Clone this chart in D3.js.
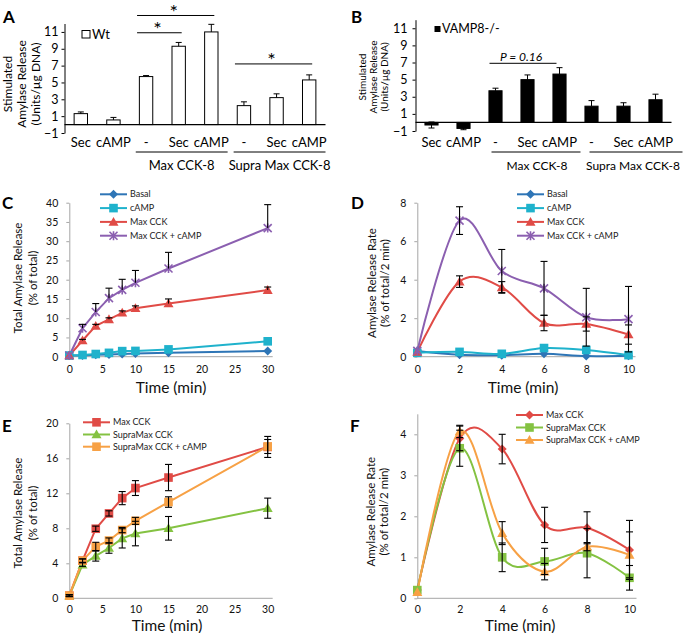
<!DOCTYPE html>
<html><head><meta charset="utf-8">
<script src="https://cdn.jsdelivr.net/npm/d3@7"></script>
<style>body{margin:0;background:#fff} svg{display:block} text{font-family:Lato,"Open Sans",sans-serif}</style>
</head><body>
<svg id="c" width="683" height="633"></svg>
<script>
// ---------- DATA ----------
const barCats = ["Sec","cAMP","-","Sec","cAMP","-","Sec","cAMP"];
const barGroups = ["Max CCK-8","Supra Max CCK-8"];
const barTicks = [-1,1,3,5,7,9,11];
const wtValues = [1.3,0.55,5.7,9.3,11.0,2.25,3.2,5.3];
const wtErrors = [0.2,0.3,0.12,0.45,0.9,0.45,0.45,0.6];
const koValues = [-0.3,-0.7,3.7,5.0,5.65,1.9,1.9,2.65];
const koErrors = [0.35,0.15,0.3,0.55,0.75,0.65,0.4,0.65];

const cumTime = [0,2,4,6,8,10,15,30];
const rateTime = [0,2,4,6,8,10];

// Panel C (cumulative)
const cBasal = [0.3,0.3,0.5,0.6,0.7,0.8,1.0,1.5];
const cCamp = [0.3,0.45,0.7,1.0,1.45,1.5,1.9,4.0];
const cMax = [0.3,4.2,8.0,9.7,11.4,12.6,13.8,17.3];
const cMaxErr = [0,0.3,0.4,0.4,0.5,0.6,1.2,0.8];
const cMaxCamp = [0.3,7.4,11.6,15.2,17.35,19.2,22.9,33.4];
const cMaxCampErr = [0,1.0,2.2,2.6,2.75,3.2,4.2,6.1];

// Panel D (rate)
const dBasal = [0.3,0.1,0.08,0.15,0.03,0.05];
const dCamp = [0.2,0.25,0.15,0.45,0.35,0.08];
const dMax = [0.25,3.9,3.6,1.75,1.7,1.15];
const dMaxErr = [0,0.3,0.3,0.4,0.37,0.5];
const dMaxCamp = [0.3,7.07,4.45,3.55,2.05,1.95];
const dMaxCampErr = [0,0.72,1.12,1.4,1.5,1.7];

// Panel E (cumulative)
const eMax = [0.3,4.3,7.95,9.7,11.45,12.6,13.8,17.3];
const eMaxErr = [0.1,0.2,0.3,0.3,0.75,0.85,1.5,1.2];
const eSupra = [0.3,3.85,4.85,5.75,6.85,7.4,8.0,10.3];
const eSupraErr = [0.1,0.2,0.6,0.6,1.1,1.4,1.35,1.15];
const eSupraCamp = [0.3,4.3,5.9,6.6,7.8,8.85,11.0,17.35];
const eSupraCampErr = [0.1,0.2,0.5,0.3,0.3,0.4,0.6,0.8];

// Panel F (rate)
const fMax = [0.2,3.9,3.64,1.79,1.72,1.18];
const fMaxErr = [0,0.3,0.36,0.43,0.39,0.72];
const fSupra = [0.2,3.66,1.0,0.9,1.1,0.5];
const fSupraErr = [0,0.44,0.35,0.32,0.6,0.3];
const fSupraCamp = [0.15,4.07,1.59,0.65,1.26,1.06];
const fSupraCampErr = [0,0.15,0.28,0.2,0.1,0.56];

const cumTicks = [0,5,10,15,20,25,30];
const rateTicks = [0,2,4,6,8,10];

// ---------- DRAW ----------
const svg = d3.select("#c");

function letter(t,x,y){
  svg.append("text").attr("x",x).attr("y",y).attr("font-size",17).attr("font-weight","bold").text(t);
}

function barPanel(cfg){
  const g = svg.append("g");
  const x = d3.scaleBand().domain(d3.range(barCats.length)).range(cfg.xr).paddingInner(0.59).paddingOuter(0.295);
  const y = d3.scaleLinear().domain([-1,12]).range(cfg.yr);
  const ax = g.append("g").attr("transform",`translate(${cfg.xr[0]},0)`)
    .call(d3.axisLeft(y).tickValues(barTicks).tickSize(3).tickPadding(cfg.tp).tickSizeOuter(0));
  ax.selectAll("text").attr("font-size",12.5).attr("fill","#000");
  ax.selectAll("line,path").attr("stroke","#000");
  g.selectAll("rect.b").data(cfg.values).join("rect")
    .attr("x",(d,i)=>x(i)).attr("width",x.bandwidth())
    .attr("y",d=>y(Math.max(0,d))).attr("height",d=>Math.abs(y(d)-y(0)))
    .attr("fill",cfg.fill).attr("stroke","#000").attr("stroke-width",1);
  cfg.values.forEach((v,i)=>{
    const e = cfg.errors[i], cx = x(i)+x.bandwidth()/2;
    const lo = v<0 ? v-e : v, hi = v+e;
    g.append("line").attr("x1",cx).attr("x2",cx).attr("y1",y(lo)).attr("y2",y(hi)).attr("stroke","#000");
    g.append("line").attr("x1",cx-3).attr("x2",cx+3).attr("y1",y(hi)).attr("y2",y(hi)).attr("stroke","#000");
    if(v<0) g.append("line").attr("x1",cx-3).attr("x2",cx+3).attr("y1",y(lo)).attr("y2",y(lo)).attr("stroke","#000");
  });
  g.append("line").attr("x1",cfg.xr[0]).attr("x2",cfg.xr[1]).attr("y1",y(0)).attr("y2",y(0)).attr("stroke","#000").attr("stroke-width",1.3);
  barCats.forEach((c,i)=>{
    g.append("text").attr("x",x(i)+x.bandwidth()/2).attr("y",147).attr("text-anchor","middle").attr("font-size",13).text(c);
  });
  const step = x.step();
  [[2,4],[5,7]].forEach((r,k)=>{
    const x0 = x(r[0]) - x.paddingOuter()*step + cfg.gOff[k][0], x1 = x(r[1]) - x.paddingOuter()*step + step + cfg.gOff[k][1];
    g.append("line").attr("x1",x0).attr("x2",x1).attr("y1",152).attr("y2",152).attr("stroke","#000");
    g.append("text").attr("x",cfg.gLabelX ? cfg.gLabelX[k] : (x0+x1)/2).attr("y",170).attr("text-anchor","middle")
      .attr("font-size",cfg.gSize).text(barGroups[k]);
  });
  cfg.title.forEach((t,k)=>{
    g.append("text").attr("transform",`translate(${cfg.titleX[k]},${cfg.titleY}) rotate(-90)`)
      .attr("text-anchor","middle").attr("dy","0.35em").attr("font-size",cfg.titleSize).text(t);
  });
  return {x,y,g};
}

// Panel A
const A = barPanel({xr:[64.5,325.5], yr:[133,23.5], tp:3, values:wtValues, errors:wtErrors, fill:"#fff", gSize:13,
  gOff:[[6,0],[6,0]], title:["Stimulated","Amylase Release","(Units/\u00b5g DNA)"], titleX:[8,22,36], titleY:84, titleSize:12});
{
  const cx = i=>A.x(i)+A.x.bandwidth()/2;
  [[2,4,12.95],[2,3,10.9],[5,7,7.2]].forEach(s=>{
    const x0=cx(s[0])-9, x1=cx(s[1])+3, yy=A.y(s[2]);
    A.g.append("line").attr("x1",x0).attr("x2",x1).attr("y1",yy).attr("y2",yy).attr("stroke","#000");
    A.g.append("text").attr("x",(x0+x1)/2-2).attr("y",yy+3.5).attr("text-anchor","middle").attr("font-size",20).text("*");
  });
  A.g.append("rect").attr("x",82).attr("y",30.5).attr("width",8).attr("height",7.5).attr("fill","#fff").attr("stroke","#000");
  A.g.append("text").attr("x",92).attr("y",38.5).attr("font-size",13).text("Wt");
}
letter("A",3,23);

// Panel B
const B = barPanel({xr:[415.5,671.5], yr:[131,19.7], tp:5, values:koValues, errors:koErrors, fill:"#000", gSize:12,
  gLabelX:[537,633],
  gOff:[[12,5],[14,11]], title:["Stimulated","Amylase Release","(Units/\u00b5g DNA)"], titleX:[362,373,384], titleY:77, titleSize:10});
{
  const cx = i=>B.x(i)+B.x.bandwidth()/2;
  const x0=cx(2)-6, x1=cx(4)-3, yy=63.3;
  B.g.append("line").attr("x1",x0).attr("x2",x1).attr("y1",yy).attr("y2",yy).attr("stroke","#000");
  B.g.append("text").attr("x",(x0+x1)/2-2).attr("y",61).attr("text-anchor","middle").attr("font-size",12).attr("font-style","italic").text("P = 0.16");
  B.g.append("rect").attr("x",434.5).attr("y",26).attr("width",6).attr("height",6).attr("fill","#000");
  B.g.append("text").attr("x",442).attr("y",33).attr("font-size",12.5).text("VAMP8-/-");
}
letter("B",351,23);

function marker(g,type,cx,cy,color){
  if(type==="diamond"){
    g.append("path").attr("d",`M${cx},${cy-4.5}L${cx+4.5},${cy}L${cx},${cy+4.5}L${cx-4.5},${cy}Z`).attr("fill",color);
  } else if(type==="square"){
    g.append("rect").attr("x",cx-4.3).attr("y",cy-4.3).attr("width",8.6).attr("height",8.6).attr("fill",color);
  } else if(type==="triangle"){
    g.append("path").attr("d",`M${cx},${cy-5}L${cx+5},${cy+3.8}L${cx-5},${cy+3.8}Z`).attr("fill",color);
  } else if(type==="star"){
    g.append("path").attr("d",`M${cx-4},${cy-4}L${cx+4},${cy+4}M${cx-4},${cy+4}L${cx+4},${cy-4}M${cx},${cy-4.5}L${cx},${cy+4.5}`)
      .attr("stroke",color).attr("stroke-width",1.6).attr("fill","none");
  }
}

function linePanel(cfg){
  const g = svg.append("g");
  const x = d3.scaleLinear().domain(cfg.xd).range(cfg.xr);
  const y = d3.scaleLinear().domain(cfg.yd).range(cfg.yr);
  const axCol = "#a6a6a6";
  const ay = g.append("g").attr("transform",`translate(${cfg.xr[0]},0)`)
    .call(d3.axisLeft(y).tickValues(cfg.yTicks).tickFormat(d3.format("d")).tickSize(3).tickPadding(8).tickSizeOuter(0));
  ay.selectAll("line,path").attr("stroke",axCol);
  ay.selectAll("text").attr("font-size",10.5).attr("fill","#111");
  g.append("line").attr("x1",cfg.xr[0]).attr("x2",cfg.xr[1]+cfg.xExt).attr("y1",y(0)).attr("y2",y(0)).attr("stroke",axCol);
  const ax = g.append("g").attr("transform",`translate(0,${y(0)})`)
    .call(d3.axisBottom(x).tickValues(cfg.xTicks).tickFormat(d3.format("d")).tickSize(0).tickPadding(cfg.xPad));
  ax.select(".domain").remove();
  ax.selectAll("text").attr("font-size",10.5).attr("fill","#111");
  const line = d3.line().x((d,i)=>x(cfg.time[i])).y(d=>y(d)).curve(cfg.smooth ? d3.curveCardinal.tension(0) : d3.curveLinear);
  cfg.series.forEach(s=>{
    g.append("path").attr("d",line(s.values)).attr("fill","none").attr("stroke",s.color).attr("stroke-width",2);
  });
  cfg.series.forEach(s=>{
    s.values.forEach((v,i)=>marker(g,s.marker,x(cfg.time[i]),y(v),s.color));
  });
  cfg.series.forEach(s=>{
    if(!s.errors) return;
    s.values.forEach((v,i)=>{
      const e=s.errors[i]; if(!e) return;
      const cx=x(cfg.time[i]); const hi=v+e, lo=cfg.both? v-e : v;
      g.append("line").attr("x1",cx).attr("x2",cx).attr("y1",y(lo)).attr("y2",y(hi)).attr("stroke","#000").attr("stroke-width",1.1);
      g.append("line").attr("x1",cx-3.5).attr("x2",cx+3.5).attr("y1",y(hi)).attr("y2",y(hi)).attr("stroke","#000").attr("stroke-width",1.1);
      if(cfg.both) g.append("line").attr("x1",cx-3.5).attr("x2",cx+3.5).attr("y1",y(lo)).attr("y2",y(lo)).attr("stroke","#000").attr("stroke-width",1.1);
    });
  });
  cfg.series.forEach((s,k)=>{
    const ly = cfg.leg.y + k*cfg.leg.dy;
    g.append("line").attr("x1",cfg.leg.x).attr("x2",cfg.leg.x+27).attr("y1",ly).attr("y2",ly).attr("stroke",s.color).attr("stroke-width",2);
    marker(g,s.marker,cfg.leg.x+13.5,ly,s.color);
    g.append("text").attr("x",cfg.leg.x+30).attr("y",ly).attr("dy","0.35em").attr("font-size",9).attr("fill","#222").text(s.name);
  });
  cfg.title.forEach((t,k)=>{
    g.append("text").attr("transform",`translate(${cfg.titleX[k]},${cfg.titleY}) rotate(-90)`)
      .attr("text-anchor","middle").attr("dy","0.35em").attr("font-size",11.5).attr("fill","#111").text(t);
  });
  g.append("text").attr("x",cfg.xtX).attr("y",cfg.xtY).attr("text-anchor","middle").attr("font-size",cfg.xtSize).attr("fill","#111").text("Time (min)");
}

const colBasal="#2e75b6", colCamp="#1fb2cc", colRed="#e04b46", colPurple="#8b5fb0", colGreen="#84c242", colOrange="#f7a145";

linePanel({xd:[0,30], xr:[69.3,267.7], xExt:5, yd:[0,40], yr:[356.7,202.7], yTicks:[0,5,10,15,20,25,30,35,40],
  xTicks:cumTicks, xPad:9, time:cumTime, smooth:false, both:false,
  series:[
    {name:"Basal", values:cBasal, color:colBasal, marker:"diamond"},
    {name:"cAMP", values:cCamp, color:colCamp, marker:"square"},
    {name:"Max CCK", values:cMax, errors:cMaxErr, color:colRed, marker:"triangle"},
    {name:"Max CCK + cAMP", values:cMaxCamp, errors:cMaxCampErr, color:colPurple, marker:"star"}],
  leg:{x:100,y:194.3,dy:13.8}, title:["Total Amylase Release","(% of total)"], titleX:[18,33], titleY:278, xtX:171, xtY:392.5, xtSize:15.5});
letter("C",2,209);

linePanel({xd:[0,10], xr:[417.3,628.5], xExt:7, yd:[0,8], yr:[356.7,202.7], yTicks:[0,2,4,6,8],
  xTicks:rateTicks, xPad:9, time:rateTime, smooth:true, both:true,
  series:[
    {name:"Basal", values:dBasal, color:colBasal, marker:"diamond"},
    {name:"cAMP", values:dCamp, color:colCamp, marker:"square"},
    {name:"Max CCK", values:dMax, errors:dMaxErr, color:colRed, marker:"triangle"},
    {name:"Max CCK + cAMP", values:dMaxCamp, errors:dMaxCampErr, color:colPurple, marker:"star"}],
  leg:{x:517,y:194.3,dy:13.8}, title:["Amylase Release Rate","(% of total/2 min)"], titleX:[371.5,385], titleY:283, xtX:523, xtY:392.5, xtSize:15.5});
letter("D",351,208.5);

linePanel({xd:[0,30], xr:[69.3,267.7], xExt:5, yd:[0,20], yr:[598.3,423.3], yTicks:[0,4,8,12,16,20],
  xTicks:cumTicks, xPad:7, time:cumTime, smooth:false, both:true,
  series:[
    {name:"Max CCK", values:eMax, errors:eMaxErr, color:colRed, marker:"square"},
    {name:"SupraMax CCK", values:eSupra, errors:eSupraErr, color:colGreen, marker:"triangle"},
    {name:"SupraMax CCK + cAMP", values:eSupraCamp, errors:eSupraCampErr, color:colOrange, marker:"square"}],
  leg:{x:83,y:422.3,dy:12.2}, title:["Total Amylase Release","(% of total)"], titleX:[18,33], titleY:513, xtX:167, xtY:631, xtSize:15.5});
letter("E",2,431.7);

linePanel({xd:[0,10], xr:[417.3,629.5], xExt:7, yd:[0,4.5], yr:[598.3,413.8], yTicks:[0,1,2,3,4],
  xTicks:rateTicks, xPad:7, time:rateTime, smooth:true, both:true,
  series:[
    {name:"Max CCK", values:fMax, errors:fMaxErr, color:colRed, marker:"diamond"},
    {name:"SupraMax CCK", values:fSupra, errors:fSupraErr, color:colGreen, marker:"square"},
    {name:"SupraMax CCK + cAMP", values:fSupraCamp, errors:fSupraCampErr, color:colOrange, marker:"triangle"}],
  leg:{x:516,y:415,dy:12.5}, title:["Amylase Release Rate","(% of total/2 min)"], titleX:[370.5,384.3], titleY:511.7, xtX:520, xtY:631, xtSize:15.5});
letter("F",350,431.7);
</script>
</body></html>
